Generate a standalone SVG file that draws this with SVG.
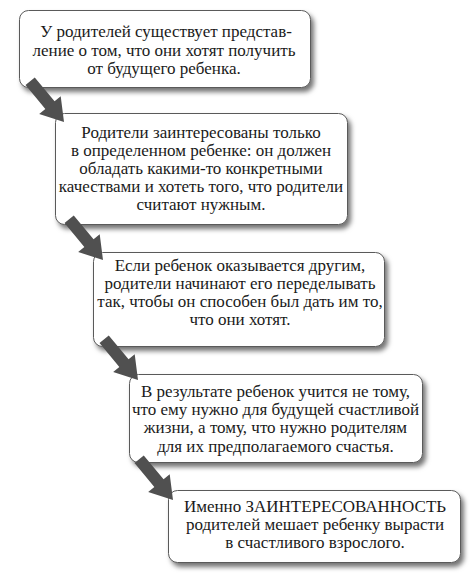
<svg xmlns="http://www.w3.org/2000/svg" width="474" height="584" viewBox="0 0 474 584">
<defs>
<filter id="sh" x="-10%" y="-10%" width="125%" height="135%">
<feDropShadow dx="3" dy="4" stdDeviation="2.5" flood-color="#000" flood-opacity="0.55"/>
</filter>
<path id="arr" d="M -53,-6 L -22,-6 L -22,-14 L 0,0 L -22,14 L -22,6 L -53,6 Z"/>
</defs>
<style>
.box{fill:#fff;stroke:#5a5a5a;stroke-width:1;filter:url(#sh)}
.t{font-size:17px;fill:#1a1a1a;text-anchor:middle}
.a{fill:#505050}
</style>
<rect width="474" height="584" fill="#fff"/>
<g id="node1">
<rect class="box" x="19.5" y="10.5" width="291" height="77" rx="9"/>
<text class="t" font-family="Liberation Serif, serif"><tspan x="166" y="37">У родителей существует представ-</tspan><tspan x="164" y="55.5">ление о том, что они хотят получить</tspan><tspan x="164" y="74">от будущего ребенка.</tspan></text>
</g>
<g id="node2">
<rect class="box" x="55.5" y="113.5" width="292" height="111" rx="9"/>
<text class="t" font-family="Liberation Serif, serif"><tspan x="201" y="137.5">Родители заинтересованы только</tspan><tspan x="201" y="155.5">в определенном ребенке: он должен</tspan><tspan x="201" y="173.5">обладать какими-то конкретными</tspan><tspan x="201" y="191.5">качествами и хотеть того, что родители</tspan><tspan x="201" y="209.5">считают нужным.</tspan></text>
</g>
<g id="node3">
<rect class="box" x="93.5" y="252.5" width="291" height="94" rx="9"/>
<text class="t" font-family="Liberation Serif, serif"><tspan x="240" y="270.5">Если ребенок оказывается другим,</tspan><tspan x="240" y="288.7">родители начинают его переделывать</tspan><tspan x="240" y="306.9">так, чтобы он способен был дать им то,</tspan><tspan x="240" y="325">что они хотят.</tspan></text>
</g>
<g id="node4">
<rect class="box" x="129.5" y="374.5" width="293" height="88" rx="9"/>
<text class="t" font-family="Liberation Serif, serif"><tspan x="275.5" y="396.7">В результате ребенок учится не тому,</tspan><tspan x="275.5" y="415">что ему нужно для будущей счастливой</tspan><tspan x="275.5" y="433.3">жизни, а тому, что нужно родителям</tspan><tspan x="275.5" y="451.6">для их предполагаемого счастья.</tspan></text>
</g>
<g id="node5">
<rect class="box" x="168.5" y="490.5" width="292" height="72" rx="9"/>
<text class="t" font-family="Liberation Serif, serif"><tspan x="315" y="511.7">Именно ЗАИНТЕРЕСОВАННОСТЬ</tspan><tspan x="315" y="530">родителей мешает ребенку вырасти</tspan><tspan x="315" y="548.3">в счастливого взрослого.</tspan></text>
</g>
<g id="connectors" class="a">
<use href="#arr" transform="translate(64,122) rotate(50.3)"/>
<use href="#arr" transform="translate(103,260) rotate(50.3)"/>
<use href="#arr" transform="translate(138,380) rotate(50.3)"/>
<use href="#arr" transform="translate(173,500) rotate(50.3)"/>
</g>
</svg>
